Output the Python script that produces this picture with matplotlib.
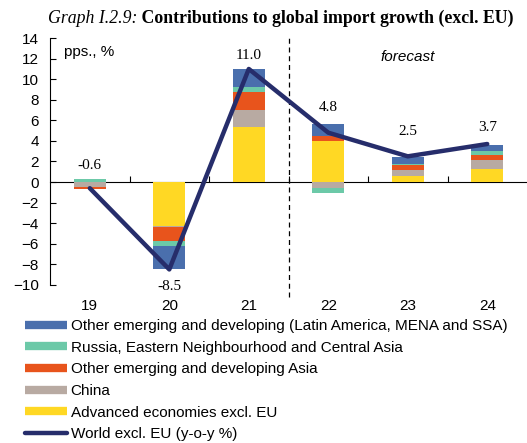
import numpy as np
import matplotlib
matplotlib.use("Agg")
import matplotlib.pyplot as plt
from matplotlib.lines import Line2D

plt.rcParams['font.family'] = ['Liberation Sans', 'DejaVu Sans']

years = ['19', '20', '21', '22', '23', '24']
series = ['Other emerging and developing (Latin America, MENA and SSA)',
          'Russia, Eastern Neighbourhood and Central Asia',
          'Other emerging and developing Asia',
          'China',
          'Advanced economies excl. EU']
# contributions, pps.
latam = [0.05, -2.3, 1.75, 1.2, 0.7, 0.6]
russia = [0.25, -0.5, 0.4, -0.5, 0.05, 0.35]
oasia = [-0.25, -1.3, 1.8, 0.5, 0.5, 0.55]
china = [-0.45, -0.1, 1.6, -0.55, 0.65, 0.85]
advanced = [0.0, -4.3, 5.4, 3.95, 0.55, 1.25]
world = [-0.6, -8.5, 11.0, 4.8, 2.5, 3.7]

colors = ['#4a6fad', '#6cc9a8', '#e8541c', '#b8aaa2', '#ffd824']
line_color = '#262d6b'

fig = plt.figure(figsize=(5.27, 4.43), dpi=100)
ax = fig.add_axes([0.095, 0.357, 0.905, 0.557])

x = np.arange(len(years))
stack = [advanced, china, oasia, russia, latam]
stack_colors = colors[::-1]
pos = np.zeros(len(years))
neg = np.zeros(len(years))
for vals, c in zip(stack, stack_colors):
    v = np.array(vals)
    base = np.where(v >= 0, pos, neg)
    ax.bar(x, v, 0.4, bottom=base, color=c, linewidth=0, zorder=2)
    pos = pos + np.clip(v, 0, None)
    neg = neg + np.clip(v, None, 0)

ax.plot(x, world, color=line_color, lw=3.2, solid_capstyle='round', zorder=4)

# label offsets in points (above the stack, or below for 2020)
offsets = [10, -12, 10, 12, 18, 12]
for i, w in enumerate(world):
    ref = neg[i] if offsets[i] < 0 else max(pos[i], w)
    ax.annotate(f'{w:.1f}', (x[i], ref), xytext=(0, offsets[i]), textcoords='offset points',
                ha='center', va='center', family='Liberation Serif', fontsize=11)

ax.set_xlim(-0.5, 5.5)
ax.set_ylim(-10, 14)
ax.set_yticks(np.arange(-10, 15, 2))
ax.tick_params(axis='y', direction='in', length=4, labelsize=11, pad=8)
ax.set_xticks(x, years)
ax.tick_params(axis='x', length=0, labelsize=11, pad=10)
for s in ['top', 'right', 'bottom']:
    ax.spines[s].set_visible(False)
ax.spines['left'].set_linewidth(0.8)

# zero line with category separators
sec = ax.secondary_xaxis(10 / 24)
sec.set_xticks(np.arange(0.5, 5.5, 1), labels=[])
sec.tick_params(direction='in', length=4, width=0.8)
sec.spines['bottom'].set_linewidth(0.8)

ax.axvline(2.5, ymin=-0.05, ymax=1.0, color='black', lw=0.9, ls=(0, (4, 3)), clip_on=False, zorder=1)

ax.text(-0.33, 12.6, 'pps., %', fontsize=11, va='center')
ax.text(4.0, 12.2, 'forecast', fontsize=11, style='italic', ha='center', va='center')

t1 = fig.text(0.091, 0.948, 'Graph I.2.9:', family='Liberation Serif', style='italic',
              fontsize=12.8, va='baseline')
t2 = fig.text(0.3, 0.948, ' Contributions to global import growth (excl. EU)', family='Liberation Serif',
              fontweight='bold', fontsize=12.8, va='baseline')
# position the bold part right after the italic part
fig.canvas.draw()
bb = t1.get_window_extent()
t2.set_position((bb.x1 / fig.bbox.width, 0.948))

handles = [Line2D([], [], color=c, lw=6, solid_capstyle='butt') for c in colors]
handles.append(Line2D([], [], color=line_color, lw=3.2, solid_capstyle='round'))
labels = series + ['World excl. EU (y-o-y %)']
fig.legend(handles, labels, loc='upper left', bbox_to_anchor=(0.047, 0.28), frameon=False,
           fontsize=11, handlelength=2.75, handletextpad=0.25, labelspacing=0.5,
           borderpad=0, borderaxespad=0)

fig.savefig('out.png', dpi=100)
